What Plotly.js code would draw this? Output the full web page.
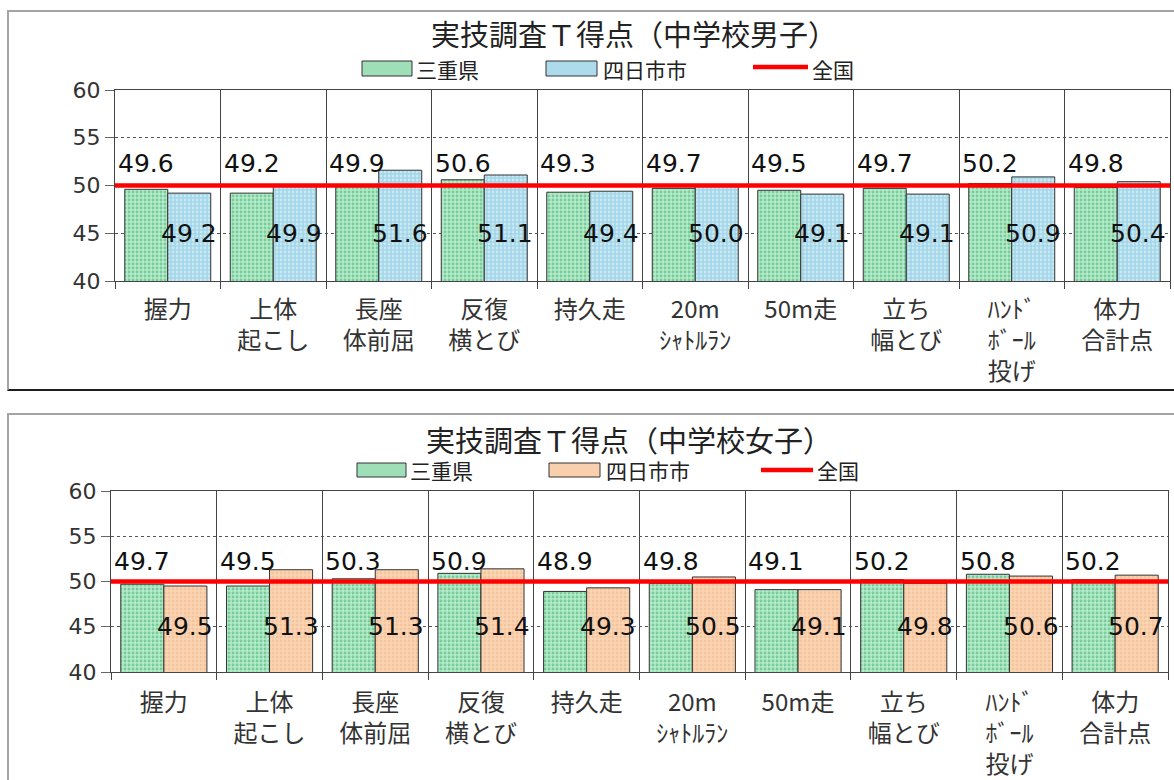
<!DOCTYPE html>
<html>
<head>
<meta charset="utf-8">
<script src="https://cdn.plot.ly/plotly-3.0.1.min.js"></script>
<style>
  body { margin:0; background:#fff; width:1174px; height:780px; overflow:hidden; position:relative; }
  .chart { position:absolute; left:0; width:1174px; }
  #boys  { top:0;     height:395px; }
  #girls { top:400px; height:380px; }
  .frame { position:absolute; pointer-events:none; box-sizing:border-box; }
  #frameBoys  { left:7px; top:10px;  width:1190px; height:381px; border:2px solid #a4a4a4; border-bottom:2px solid #1e1e1e; }
  #frameGirls { left:7px; top:413px; width:1190px; height:400px; border:2px solid #a4a4a4; }
</style>
</head>
<body>
<div id="boys" class="chart"></div>
<div id="girls" class="chart"></div>
<div id="frameBoys" class="frame"></div>
<div id="frameGirls" class="frame"></div>
<script>
// 実技調査 T得点 — 三重県 / 四日市市 / 全国
const categories = ["握力", "上体起こし", "長座体前屈", "反復横とび", "持久走",
                    "20mシャトルラン", "50m走", "立ち幅とび", "ハンドボール投げ", "体力合計点"];
const tickLabels = ["握力", "上体<br>起こし", "長座<br>体前屈", "反復<br>横とび", "持久走",
                    "20m<br>ｼｬﾄﾙﾗﾝ", "50m走", "立ち<br>幅とび", "ﾊﾝﾄﾞ<br>ﾎﾞｰﾙ<br>投げ", "体力<br>合計点"];

const mieBoys       = [49.6, 49.2, 49.9, 50.6, 49.3, 49.7, 49.5, 49.7, 50.2, 49.8];
const yokkaichiBoys = [49.2, 49.9, 51.6, 51.1, 49.4, 50.0, 49.1, 49.1, 50.9, 50.4];

const mieGirls       = [49.7, 49.5, 50.3, 50.9, 48.9, 49.8, 49.1, 50.2, 50.8, 50.2];
const yokkaichiGirls = [49.5, 51.3, 51.3, 51.4, 49.3, 50.5, 49.1, 49.8, 50.6, 50.7];

const national = [50, 50, 50, 50, 50, 50, 50, 50, 50, 50];

const seriesNames = { mie: "三重県", city: "四日市市", nation: "全国" };
const yTicks = [40, 45, 50, 55, 60];

const CJK = "Noto Sans CJK JP, Noto Sans, sans-serif";
const NUM = "DejaVu Sans, Verdana, sans-serif";

const greenFill  = { bg: "#b4ecca", fg: "#78cb9a", swatch: "#9edfb8" };
const blueFill   = { bg: "#a3d6e8", fg: "#c8e9f3", swatch: "#aedbeb" };
const orangeFill = { bg: "#fcd5b4", fg: "#f3c49e", swatch: "#f9d0ad" };

function drawChart(divId, opt) {
  const W = 1174, H = opt.height, m = opt.margin;
  const pw = W - m.l - m.r, ph = H - m.t - m.b;
  const px = x => (x - m.l) / pw;          // pixel -> paper (x)
  const py = y => (H - m.b - y) / ph;      // pixel -> paper (y)

  const barTrace = (vals, name, fill) => ({
    type: "bar", name: name, x: categories, y: vals,
    marker: {
      color: fill.bg,
      pattern: { shape: ".", fgcolor: fill.fg, bgcolor: fill.bg, size: 4, solidity: 0.4, fillmode: "replace" },
      line: { color: "#333", width: 1 }
    },
    hoverinfo: "x+y+name"
  });

  const traces = [
    barTrace(opt.mie, seriesNames.mie, greenFill),
    barTrace(opt.city, seriesNames.city, opt.cityFill),
    {
      type: "scatter", mode: "lines", name: seriesNames.nation,
      x: categories, y: national, xaxis: "x2", yaxis: "y",
      line: { color: "#ff0000", width: 4.5 }
    }
  ];

  const labelFont = { family: NUM, size: 25, color: "#111" };
  const annotations = [];
  opt.mie.forEach((v, i) => annotations.push({
    x: i - 0.5, xref: "x", xshift: 1, y: opt.mieLabelY, yref: "y",
    text: v.toFixed(1), xanchor: "left", yanchor: "middle",
    showarrow: false, font: labelFont
  }));
  opt.city.forEach((v, i) => annotations.push({
    x: i + 0.2, xref: "x", y: 45, yref: "y",
    text: v.toFixed(1), xanchor: "center", yanchor: "middle",
    showarrow: false, font: labelFont
  }));

  // legend row
  const lg = opt.legend, legendFont = { family: CJK, size: 21, color: "#222" };
  const shapes = [
    { type: "rect", xref: "paper", yref: "paper",
      x0: px(lg.mie[0]), x1: px(lg.mie[1]), y0: py(lg.top), y1: py(lg.bottom),
      fillcolor: greenFill.swatch, line: { color: "#333", width: 1 } },
    { type: "rect", xref: "paper", yref: "paper",
      x0: px(lg.city[0]), x1: px(lg.city[1]), y0: py(lg.top), y1: py(lg.bottom),
      fillcolor: opt.cityFill.swatch, line: { color: "#333", width: 1 } },
    { type: "line", xref: "paper", yref: "paper",
      x0: px(lg.nation[0]), x1: px(lg.nation[1]), y0: py(lg.lineY), y1: py(lg.lineY),
      line: { color: "#ff0000", width: 4.5 } }
  ];
  [[seriesNames.mie, lg.mie[1] + 2], [seriesNames.city, lg.city[1] + 4], [seriesNames.nation, lg.nation[1] + 2]]
    .forEach(([t, x]) => annotations.push({
      x: px(x), xref: "paper", y: py(lg.textY), yref: "paper",
      text: t, xanchor: "left", yanchor: "middle", showarrow: false, font: legendFont
    }));

  const layout = {
    width: W, height: H,
    margin: m,
    paper_bgcolor: "rgba(0,0,0,0)", plot_bgcolor: "#fff",
    showlegend: false,
    barmode: "group", bargap: 0.185, bargroupgap: 0,
    title: {
      text: opt.title, x: px(opt.titleX), xref: "paper", xanchor: "center",
      y: 1 - opt.titleY / H, yref: "container", yanchor: "middle",
      font: { family: CJK, size: 29, color: "#222" }
    },
    xaxis: {
      type: "category", range: [-0.5, 9.5],
      tickmode: "array", tickvals: categories, ticktext: tickLabels,
      tickson: "boundaries", ticks: "outside", ticklen: 7, tickcolor: "#444",
      showgrid: true, gridcolor: "#444", gridwidth: 1,
      showline: true, linecolor: "#444", linewidth: 1, mirror: true,
      tickfont: { family: CJK, size: 24, color: "#333" },
      ticklabelstandoff: opt.xStandoff,
      fixedrange: true
    },
    xaxis2: {
      type: "category", overlaying: "x", range: [0, 9], visible: false, fixedrange: true
    },
    yaxis: {
      range: [40, 60], tickmode: "array", tickvals: yTicks,
      ticks: "outside", ticklen: 9, tickcolor: "#666",
      showgrid: true, gridcolor: "#555", gridwidth: 1, griddash: "dot",
      showline: true, linecolor: "#444", linewidth: 1, mirror: true,
      zeroline: false,
      tickfont: { family: NUM, size: 22, color: "#333" },
      ticklabelstandoff: 0,
      fixedrange: true
    },
    shapes: shapes,
    annotations: annotations
  };

  Plotly.newPlot(divId, traces, layout, { displayModeBar: false, staticPlot: true });
}

drawChart("boys", {
  height: 395,
  margin: { l: 115, r: 4, t: 90, b: 114, pad: 0 },
  title: "実技調査Ｔ得点（中学校男子）", titleX: 634, titleY: 36,
  mie: mieBoys, city: yokkaichiBoys, cityFill: blueFill,
  mieLabelY: 52.3, xStandoff: 7,
  legend: { top: 61, bottom: 76, textY: 69, lineY: 67,
            mie: [362, 412], city: [546, 597], nation: [753, 808] }
});

drawChart("girls", {
  height: 380,
  margin: { l: 111, r: 6, t: 91, b: 108, pad: 0 },
  title: "実技調査Ｔ得点（中学校女子）", titleX: 629, titleY: 42,
  mie: mieGirls, city: yokkaichiGirls, cityFill: orangeFill,
  mieLabelY: 52.2, xStandoff: 9,
  legend: { top: 63, bottom: 77, textY: 70, lineY: 70,
            mie: [357, 406], city: [549, 600], nation: [761, 813] }
});
</script>
</body>
</html>
